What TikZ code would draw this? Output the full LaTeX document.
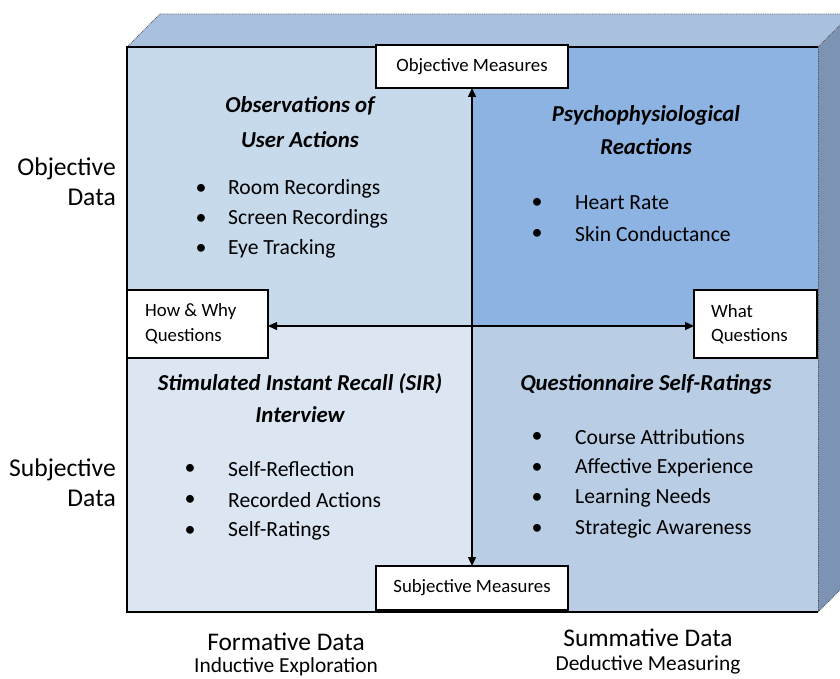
\documentclass[tikz,border=0pt]{standalone}
\usepackage{fontspec}
\setmainfont{Carlito}
\usetikzlibrary{arrows.meta}
\definecolor{topface}{RGB}{170,192,223}
\definecolor{sideface}{RGB}{125,147,180}
\definecolor{qtl}{RGB}{199,218,236}
\definecolor{qtr}{RGB}{141,179,226}
\definecolor{qbl}{RGB}{220,230,242}
\definecolor{qbr}{RGB}{185,205,229}
\definecolor{edgegray}{RGB}{90,90,90}
\tikzset{
  whitebox/.style={draw=black, line width=1.2pt, fill=white},
  boxtext/.style={font=\fontsize{18.8}{22}\selectfont, anchor=center},
  qtext/.style={font=\fontsize{21.6}{25}\selectfont, anchor=west, inner sep=0pt},
  bul/.style={font=\fontsize{22}{25}\selectfont, anchor=center, inner sep=0pt},
  hdr/.style={font=\fontsize{22.8}{26}\selectfont\bfseries\itshape, anchor=center, inner sep=0pt},
  side/.style={font=\fontsize{25.6}{30}\selectfont, align=right, anchor=east, inner sep=0pt},
  btm/.style={font=\fontsize{25.4}{28}\selectfont, anchor=center, inner sep=0pt},
  btmsub/.style={font=\fontsize{21.4}{24}\selectfont, anchor=center, inner sep=0pt},
  dblarrow/.style={line width=1.3pt, {Triangle[length=9pt,width=8pt]}-{Triangle[length=9pt,width=8pt]}},
  dottededge/.style={draw=edgegray, line width=0.8pt, densely dotted}
}
\begin{document}
\begin{tikzpicture}[x=1pt,y=-1pt]
\useasboundingbox (0,0) rectangle (840,679);
\clip (0,0) rectangle (840,679);
% 3D box faces
\fill[topface] (127,47) -- (160,14) -- (851,14) -- (818,47) -- cycle;
\fill[sideface] (818,47) -- (851,14) -- (851,579) -- (818,612) -- cycle;
\draw[dottededge] (127,47) -- (160,14) -- (851,14);
\draw[dottededge] (818,47) -- (851,14);
\draw[dottededge] (818,612) -- (851,579);
% quadrants
\fill[qtl] (127,47) rectangle (472,326);
\fill[qtr] (472,47) rectangle (818,326);
\fill[qbl] (127,326) rectangle (472,612);
\fill[qbr] (472,326) rectangle (818,612);
\draw[black, line width=1.2pt] (818,47) -- (127,47) -- (127,612) -- (818,612);
\draw[dottededge] (818,47) -- (818,612);
% white boxes
\node[whitebox, minimum width=192pt, minimum height=43pt] (om) at (472,66.5) {};
\node[boxtext] (omt) at (om.center) {Objective Measures};
\node[whitebox, minimum width=192pt, minimum height=44pt] (sm) at (472,588) {};
\node[boxtext] (smt) at (sm.center) {Subjective Measures};
\node[whitebox, minimum width=141pt, minimum height=68pt] (hw) at (197.5,324) {};
\node[boxtext, anchor=west, inner sep=0pt] (hw1) at (145,311) {How \& Why};
\node[boxtext, anchor=west, inner sep=0pt] (hw2) at (145,336) {Questions};
\node[whitebox, minimum width=123pt, minimum height=68pt] (wq) at (755.5,324) {};
\node[boxtext, anchor=west, inner sep=0pt] (wq1) at (711,311) {What};
\node[boxtext, anchor=west, inner sep=0pt] (wq2) at (711,336) {Questions};
% arrows
\coordinate (vt) at (472,88);
\coordinate (vb) at (472,566);
\coordinate (hl) at (268,326);
\coordinate (hr) at (694,326);
\draw[dblarrow] (vt) -- (vb);
\draw[dblarrow] (hl) -- (hr);
% side labels
\node[side] (od) at (116,182) {Objective\\Data};
\node[side] (sd) at (116,483) {Subjective\\Data};
% bottom labels
\node[btm] (fd) at (286,642) {Formative Data};
\node[btmsub] (ie) at (286,667) {Inductive Exploration};
\node[btm] (sumd) at (648,638) {Summative Data};
\node[btmsub] (dm) at (648,665) {Deductive Measuring};
% top-left quadrant
\node[hdr] (h1a) at (300,106) {Observations of};
\node[hdr] (h1b) at (300,140) {User Actions};
\node[bul] (b11) at (201,189) {•};
\node[qtext] (t11) at (228,189) {Room Recordings};
\node[bul] (b12) at (201,219) {•};
\node[qtext] (t12) at (228,219) {Screen Recordings};
\node[bul] (b13) at (201,249) {•};
\node[qtext] (t13) at (228,249) {Eye Tracking};
% top-right quadrant
\node[hdr] (h2a) at (646,115) {Psychophysiological};
\node[hdr] (h2b) at (646,147) {Reactions};
\node[bul] (b21) at (537,203) {•};
\node[qtext] (t21) at (575,203) {Heart Rate};
\node[bul] (b22) at (537,234) {•};
\node[qtext] (t22) at (575,234) {Skin Conductance};
% bottom-left quadrant
\node[hdr] (h3a) at (300,384) {Stimulated Instant Recall (SIR)};
\node[hdr] (h3b) at (300,415) {Interview};
\node[bul] (b31) at (190,469) {•};
\node[qtext] (t31) at (228,469) {Self-Reflection};
\node[bul] (b32) at (190,500) {•};
\node[qtext] (t32) at (228,500) {Recorded Actions};
\node[bul] (b33) at (190,531) {•};
\node[qtext] (t33) at (228,531) {Self-Ratings};
% bottom-right quadrant
\node[hdr] (h4a) at (646,384) {Questionnaire Self-Ratings};
\node[bul] (b41) at (537,437) {•};
\node[qtext] (t41) at (575,437) {Course Attributions};
\node[bul] (b42) at (537,468) {•};
\node[qtext] (t42) at (575,468) {Affective Experience};
\node[bul] (b43) at (537,498) {•};
\node[qtext] (t43) at (575,498) {Learning Needs};
\node[bul] (b44) at (537,529) {•};
\node[qtext] (t44) at (575,529) {Strategic Awareness};
\end{tikzpicture}
\end{document}
